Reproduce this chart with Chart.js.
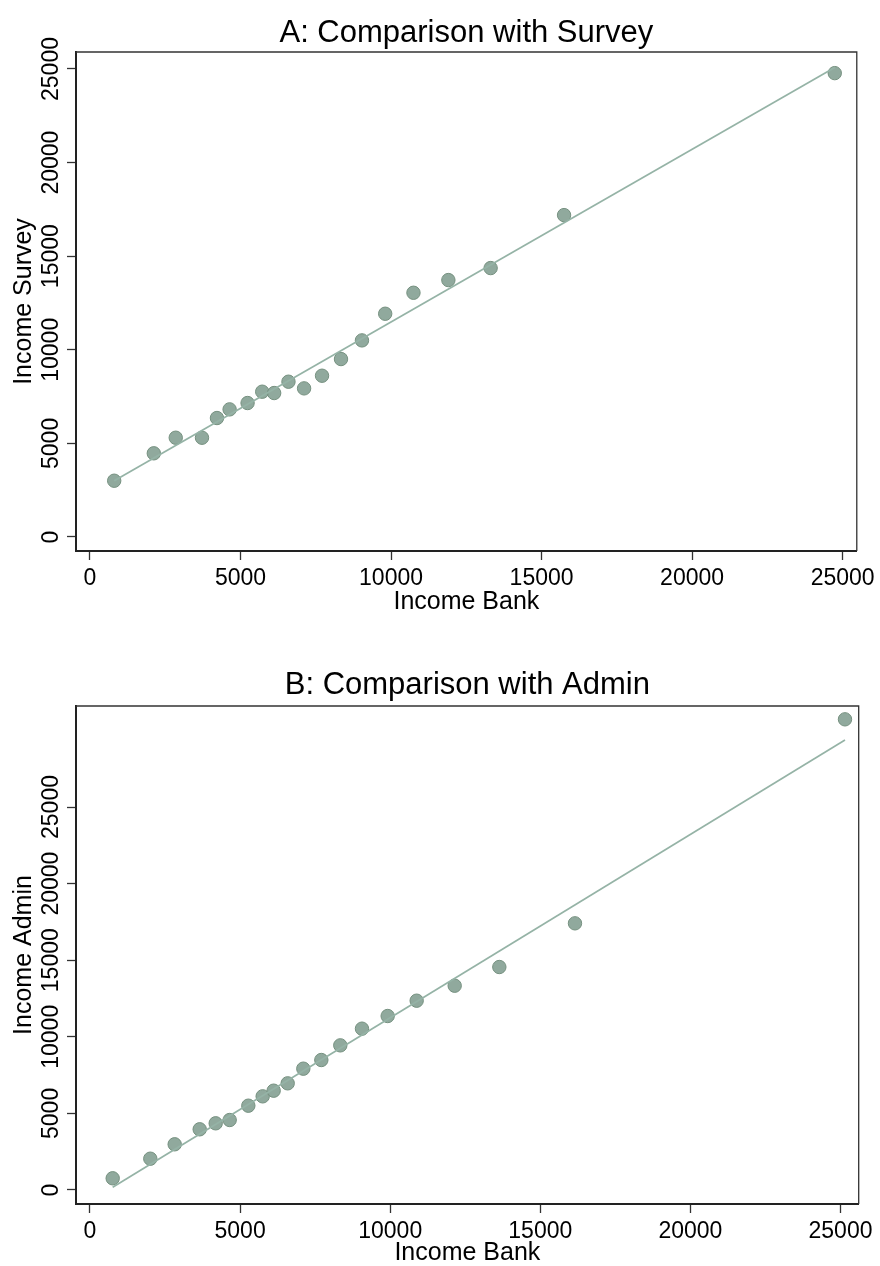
<!DOCTYPE html>
<html>
<head>
<meta charset="utf-8">
<script src="https://cdn.jsdelivr.net/npm/chart.js@4.4.1/dist/chart.umd.min.js"></script>
<style>
  html, body { margin: 0; padding: 0; background: #fff; }
  #wrap { position: relative; width: 880px; height: 1266px; overflow: hidden; }
  .box { position: absolute; left: 0; width: 880px; }
  #boxA { top: 0; height: 633px; }
  #boxB { top: 633px; height: 640px; }
</style>
</head>
<body>
<div id="wrap">
  <div class="box" id="boxA"><canvas id="chartA"></canvas></div>
  <div class="box" id="boxB"><canvas id="chartB"></canvas></div>
</div>
<script>
// panel A: bank vs survey
const bankA   = [805, 2120, 2849, 3721, 4218, 4638, 5235, 5721, 6118, 6593, 7112, 7708, 8338, 9034, 9806, 10745, 11904, 13308, 15747, 24738];
const surveyA = [3006, 4470, 5303, 5303, 6355, 6817, 7156, 7761, 7690, 8295, 7939, 8615, 9505, 10502, 11926, 13046, 13724, 14365, 17195, 24778];
const fitXA = [805, 24738];
const fitYA = [3000, 25080];

// panel B: bank vs admin
const bankB  = [756, 2009, 2821, 3654, 4187, 4653, 5274, 5752, 6118, 6585, 7106, 7706, 8338, 9060, 9916, 10882, 12148, 13635, 16155, 25149];
const adminB = [764, 2043, 2983, 3962, 4353, 4569, 5503, 6114, 6483, 6963, 7919, 8485, 9442, 10530, 11357, 12357, 13335, 14555, 17407, 30723];
const fitXB = [756, 25149];
const fitYB = [176, 29380];

const xTicks = [0, 5000, 10000, 15000, 20000, 25000];
const yTicks = [0, 5000, 10000, 15000, 20000, 25000];

const FONT = '"Liberation Sans", Arial, Helvetica, sans-serif';
const DOT = 'rgba(138,164,152,0.95)';
const DOT_EDGE = '#75907f';
const FIT = '#95b3a6';

Chart.defaults.font.family = FONT;
Chart.defaults.color = '#000';

function toPoints(xs, ys) {
    return xs.map((x, i) => ({x: x, y: ys[i]}));
}

// title centred on the plot, rotated y tick labels, thin top/right frame
const stataFrame = {
    id: 'stataFrame',
    afterDraw(chart, args, o) {
        const ctx = chart.ctx, a = chart.chartArea, y = chart.scales.y;
        ctx.save();
        ctx.strokeStyle = '#333';
        ctx.lineWidth = 1.3;
        ctx.beginPath();
        ctx.moveTo(a.left, a.top);
        ctx.lineTo(a.right, a.top);
        ctx.lineTo(a.right, a.bottom);
        ctx.stroke();

        ctx.fillStyle = '#000';
        ctx.textAlign = 'center';
        ctx.textBaseline = 'alphabetic';
        ctx.font = '31px ' + FONT;
        ctx.fillText(o.title, (a.left + a.right) / 2, o.titleBase);

        ctx.font = '23px ' + FONT;
        y.ticks.forEach(t => {
            const py = y.getPixelForValue(t.value);
            ctx.save();
            ctx.translate(y.right - 17.7, py);
            ctx.rotate(-Math.PI / 2);
            ctx.fillText(String(t.value), 0, 0);
            ctx.restore();
        });
        ctx.restore();
    }
};

function makeChart(id, opts) {
    return new Chart(document.getElementById(id), {
        type: 'scatter',
        data: {
            datasets: [
                {type: 'line', data: toPoints(opts.fitX, opts.fitY), borderColor: FIT, borderWidth: 1.7, pointRadius: 0, fill: false, order: 0},
                {data: toPoints(opts.xs, opts.ys), backgroundColor: DOT, borderColor: DOT_EDGE, borderWidth: 1, pointRadius: 6.7, order: 1}
            ]
        },
        options: {
            responsive: true,
            maintainAspectRatio: false,
            animation: false,
            layout: {padding: {left: 0, right: 21.3, top: opts.top, bottom: 0}},
            plugins: {
                legend: {display: false},
                tooltip: {enabled: false},
                title: {display: false},
                stataFrame: {title: opts.title, titleBase: opts.titleBase}
            },
            scales: {
                x: {
                    type: 'linear', min: opts.xMin, max: opts.xMax,
                    afterBuildTicks: s => { s.ticks = xTicks.map(v => ({value: v})); },
                    afterFit: s => { s.height = opts.xHeight; },
                    grid: {drawOnChartArea: false, drawTicks: true, tickLength: 9, tickColor: '#333', tickWidth: 1.3},
                    border: {display: true, color: '#222', width: 2},
                    ticks: {color: '#000', font: {size: 23}, padding: 5, maxRotation: 0, callback: v => String(v)},
                    title: {display: true, text: 'Income Bank', color: '#000', font: {size: 25}, padding: {top: 0, bottom: opts.xTitlePad}}
                },
                y: {
                    type: 'linear', min: opts.yMin, max: opts.yMax,
                    afterBuildTicks: s => { s.ticks = yTicks.map(v => ({value: v})); },
                    afterFit: s => { s.width = 76; },
                    grid: {drawOnChartArea: false, drawTicks: true, tickLength: 9, tickColor: '#333', tickWidth: 1.3},
                    border: {display: true, color: '#222', width: 2},
                    ticks: {display: false},
                    title: {display: true, text: opts.yTitle, color: '#000', font: {size: 25}, padding: {top: 9.3, bottom: 0}}
                }
            }
        },
        plugins: [stataFrame]
    });
}

makeChart('chartA', {
    title: 'A: Comparison with Survey', yTitle: 'Income Survey',
    xs: bankA, ys: surveyA, fitX: fitXA, fitY: fitYA,
    xMin: -464, xMax: 25470, yMin: -748, yMax: 25907,
    top: 52, titleBase: 41.7, xHeight: 82, xTitlePad: 15.5
});

makeChart('chartB', {
    title: 'B: Comparison with Admin', yTitle: 'Income Admin',
    xs: bankB, ys: adminB, fitX: fitXB, fitY: fitYB,
    xMin: -466, xMax: 25606, yMin: -914, yMax: 31593,
    top: 73, titleBase: 61.3, xHeight: 69, xTitlePad: 4.5
});
</script>
</body>
</html>
